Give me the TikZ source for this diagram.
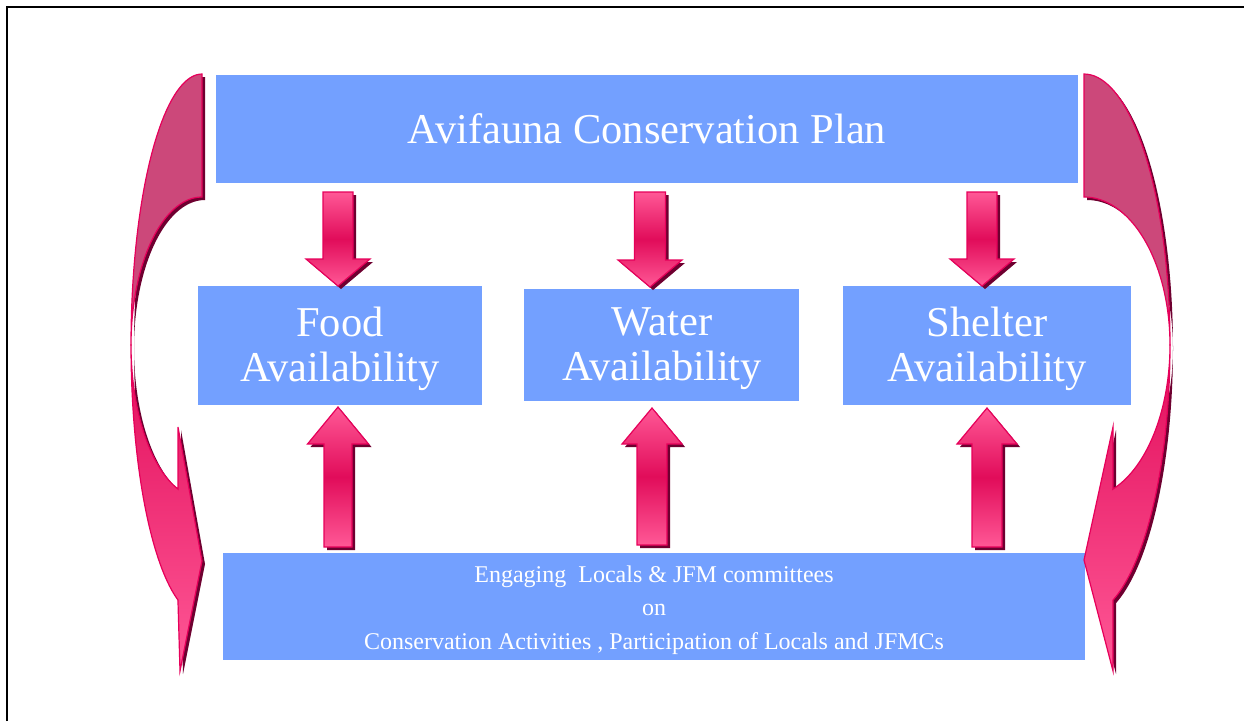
\documentclass[tikz,border=0pt]{standalone}
\usepackage{fontspec}
\setmainfont{Liberation Serif}
\definecolor{boxblue}{RGB}{115,160,255}
\definecolor{arrline}{RGB}{230,0,90}
\definecolor{pinkL}{RGB}{255,88,150}
\definecolor{crim}{RGB}{225,12,90}
\definecolor{arrshadow}{RGB}{110,0,48}
\definecolor{backband}{RGB}{204,72,122}
\tikzset{
  bluebox/.style={fill=boxblue, draw=none, inner sep=0pt},
  whitetext/.style={text=white, align=center, inner sep=0pt},
  bigtext/.style={font=\fontsize{42.5}{45}\selectfont},
  arrbody/.style={draw=arrline, line width=1.2pt, line join=miter, top color=pinkL, bottom color=pinkL, middle color=crim},
  frontband/.style={draw=arrline, line width=1.2pt, top color=crim, bottom color=pinkL},
  backstyle/.style={draw=arrline, line width=1.2pt, fill=backband},
  shadowstyle/.style={fill=arrshadow, shift={(3,3)}}
}
\newcommand\blkarrow[6]{%
  \fill[shadowstyle] (#1-#5,#2) -- (#1+#5,#2) -- (#1+#5,#3) -- (#1+#6,#3) -- (#1,#4) -- (#1-#6,#3) -- (#1-#5,#3) -- cycle;
  \draw[arrbody] (#1-#5,#2) -- (#1+#5,#2) -- (#1+#5,#3) -- (#1+#6,#3) -- (#1,#4) -- (#1-#6,#3) -- (#1-#5,#3) -- cycle;}
\begin{document}
\begin{tikzpicture}[x=1pt,y=-1pt]
\useasboundingbox (0,0) rectangle (1244,721);
\draw[line width=2pt] (7,721) -- (7,7) -- (1244,7);

% boxes
\node[bluebox, minimum width=862pt, minimum height=108pt] (plan) at (647,129) {};
\node[whitetext, font=\fontsize{42.5}{48}\selectfont] (plantext) at (647,129) {Avifauna Conservation Plan};
\node[bluebox, minimum width=284pt, minimum height=119pt] (food) at (340,345.5) {};
\node[whitetext, bigtext] (foodtext) at (340,348.5) {Food\\Availability};
\node[bluebox, minimum width=275pt, minimum height=112pt] (water) at (661.5,345) {};
\node[whitetext, bigtext] (watertext) at (662,348.5) {Water\\Availability};
\node[bluebox, minimum width=288pt, minimum height=119pt] (shelter) at (987,345.5) {};
\node[whitetext, bigtext] (sheltertext) at (987,348.5) {Shelter\\Availability};
\node[bluebox, minimum width=862pt, minimum height=107pt] (engage) at (654,606.5) {};
\node[whitetext, font=\fontsize{24}{33.5}\selectfont] (engagetext) at (654,610) {Engaging~ Locals \& JFM committees\\on\\Conservation Activities , Participation of Locals and JFMCs};

% straight block arrows
\blkarrow{338}{192}{259}{286}{15}{32}
\blkarrow{650}{192}{260}{287}{15.5}{32}
\blkarrow{982}{192}{259}{286}{15}{32}
\blkarrow{338}{547}{444}{407}{14}{30.5}
\blkarrow{652}{545}{444}{408}{15}{30}
\blkarrow{987}{547}{444}{408}{15}{30}

% left curved arrow
\begin{scope}[shift={(3,3)}]
\fill[arrshadow] (202,74) -- plot[domain=270:180, samples=40, variable=\t] ({202+71*cos(\t)},{345+271*sin(\t)}) -- plot[domain=180:270, samples=40, variable=\t] ({202+71*cos(\t)},{345+148*sin(\t)}) -- cycle;
\fill[arrshadow] (131,345) -- plot[domain=180:109.8, samples=40, variable=\t] ({202+71*cos(\t)},{345+271*sin(\t)}) -- (180,671) -- (202,561) -- (178,427) -- (178,489) -- plot[domain=109.8:180, samples=40, variable=\t] ({202+71*cos(\t)},{345+153*sin(\t)}) -- cycle;
\end{scope}
\draw[backstyle] (202,74) -- plot[domain=270:180, samples=40, variable=\t] ({202+71*cos(\t)},{345+271*sin(\t)}) -- plot[domain=180:270, samples=40, variable=\t] ({202+71*cos(\t)},{345+148*sin(\t)}) -- cycle;
\draw[frontband] (131,345) -- plot[domain=180:109.8, samples=40, variable=\t] ({202+71*cos(\t)},{345+271*sin(\t)}) -- (180,671) -- (202,561) -- (178,427) -- (178,489) -- plot[domain=109.8:180, samples=40, variable=\t] ({202+71*cos(\t)},{345+153*sin(\t)}) -- cycle;

% right curved arrow
\begin{scope}[shift={(3,3)}]
\fill[arrshadow] (1084,74) -- plot[domain=270:360, samples=40, variable=\t] ({1084+86*cos(\t)},{345+271*sin(\t)}) -- plot[domain=360:270, samples=40, variable=\t] ({1084+86*cos(\t)},{345+148*sin(\t)}) -- cycle;
\fill[arrshadow] (1170,345) -- plot[domain=0:70.3, samples=40, variable=\t] ({1084+86*cos(\t)},{345+271*sin(\t)}) -- (1113,671) -- (1084,560) -- (1113,427) -- (1113,489) -- plot[domain=70.3:0, samples=40, variable=\t] ({1084+86*cos(\t)},{345+153*sin(\t)}) -- cycle;
\end{scope}
\draw[backstyle] (1084,74) -- plot[domain=270:360, samples=40, variable=\t] ({1084+86*cos(\t)},{345+271*sin(\t)}) -- plot[domain=360:270, samples=40, variable=\t] ({1084+86*cos(\t)},{345+148*sin(\t)}) -- cycle;
\draw[frontband] (1170,345) -- plot[domain=0:70.3, samples=40, variable=\t] ({1084+86*cos(\t)},{345+271*sin(\t)}) -- (1113,671) -- (1084,560) -- (1113,427) -- (1113,489) -- plot[domain=70.3:0, samples=40, variable=\t] ({1084+86*cos(\t)},{345+153*sin(\t)}) -- cycle;
\end{tikzpicture}
\end{document}
